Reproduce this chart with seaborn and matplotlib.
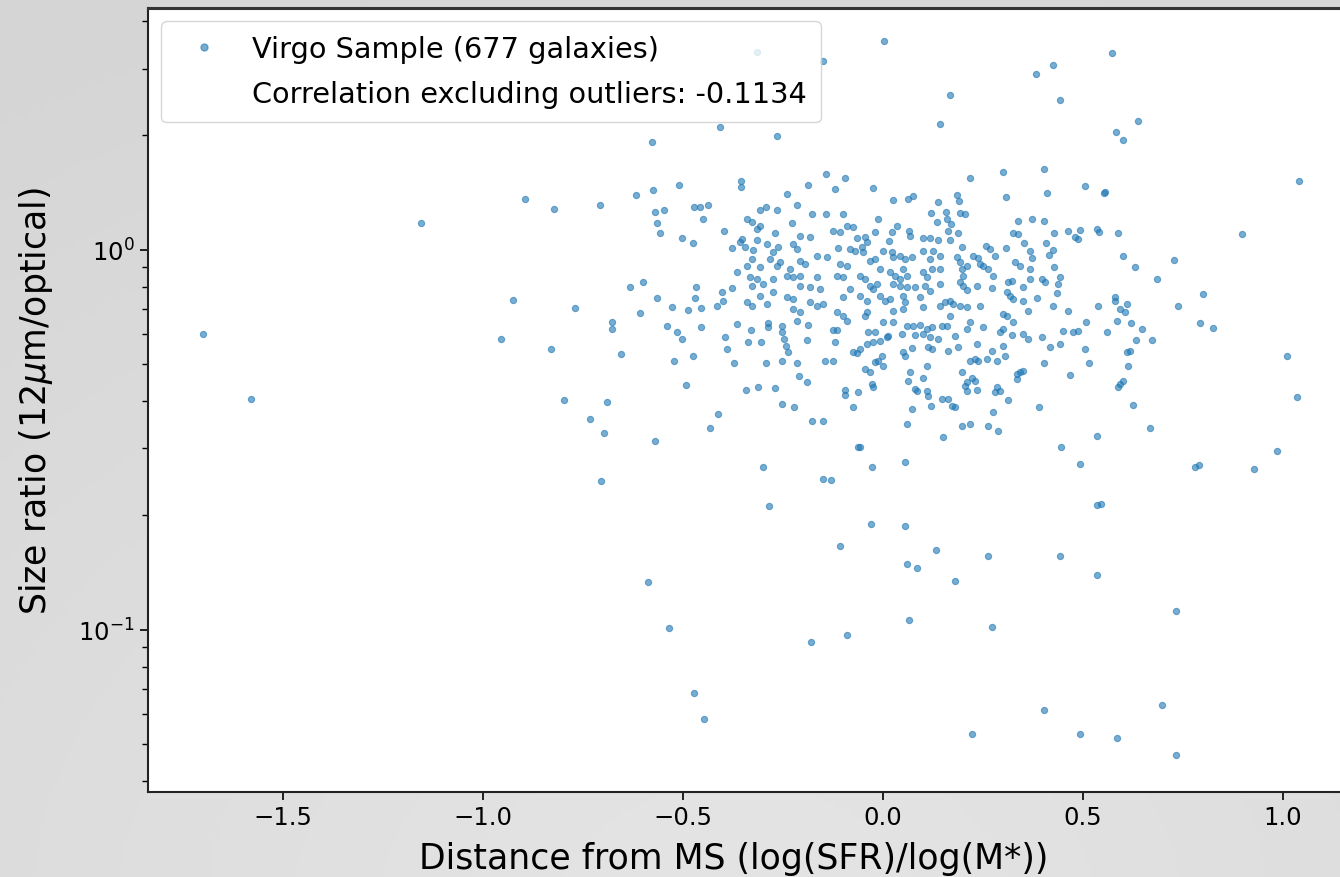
import numpy as np
import matplotlib
matplotlib.use("Agg")
import matplotlib.pyplot as plt
from matplotlib.lines import Line2D
import seaborn as sns

# ---------------- data ----------------
# x: distance from main sequence; *_logy: log10 of the size ratio (read on the log axis)
core_a_x = [-0.143, -0.095, -0.355, -0.355, -0.51, -0.188, -0.12, -0.575, -0.618, -0.24,
            -0.708, -0.473, -0.458, -0.438, -0.215, -0.57, -0.548, -0.308, -0.293, -0.265,
            -0.178, -0.143, -0.1, -0.45, -0.34, -0.328, -0.565, -0.228, -0.308, -0.315,
            -0.09, -0.075, -0.125, -0.108, -0.398, -0.558, -0.27, -0.208, -0.183, -0.353,
            -0.315, -0.065, -0.503, -0.475, -0.29, -0.263, -0.225, -0.215, -0.358, -0.345,
            -0.378, -0.113, -0.083, -0.07, -0.325, -0.275, -0.165, -0.14, -0.283, -0.258,
            -0.328, -0.208, -0.195, -0.108, -0.09, -0.34, -0.308, -0.265, -0.233, -0.365,
            -0.24, -0.225, -0.208, -0.165, -0.115, -0.1, -0.333, -0.315, -0.275, -0.6,
            -0.633, -0.468, -0.378, -0.328, -0.3, -0.208, -0.183, -0.158, -0.083, -0.565,
            -0.47, -0.403, -0.4, -0.308, -0.275, -0.24, -0.225, -0.34, -0.328, -0.183,
            -0.165, -0.15, -0.1, -0.77, -0.528, -0.488, -0.455, -0.415, -0.608, -0.29,
            -0.225, -0.208, -0.115, -0.1]
core_a_logy = [0.199, 0.189, 0.181, 0.165, 0.170, 0.170, 0.160, 0.157, 0.144, 0.147,
               0.118, 0.112, 0.112, 0.118, 0.118, 0.099, 0.104, 0.104, 0.112, 0.104,
               0.094, 0.094, 0.094, 0.081, 0.081, 0.073, 0.070, 0.070, 0.062, 0.054,
               0.062, 0.060, 0.049, 0.047, 0.049, 0.044, 0.044, 0.036, 0.033, 0.028,
               0.026, 0.031, 0.031, 0.018, 0.015, 0.007, 0.015, 0.002, 0.020, 0.007,
               0.004, 0.004, 0.002, -0.003, -0.001, -0.006, -0.017, -0.019, -0.024, -0.032,
               -0.024, -0.030, -0.038, -0.038, -0.043, -0.043, -0.046, -0.043, -0.051, -0.059,
               -0.069, -0.072, -0.069, -0.072, -0.069, -0.072, -0.072, -0.077, -0.077, -0.085,
               -0.098, -0.098, -0.101, -0.096, -0.090, -0.096, -0.098, -0.103, -0.103, -0.127,
               -0.127, -0.111, -0.135, -0.122, -0.111, -0.124, -0.130, -0.138, -0.148, -0.138,
               -0.148, -0.143, -0.124, -0.153, -0.151, -0.159, -0.153, -0.148, -0.167, -0.143,
               -0.156, -0.164, -0.164, -0.174]

core_b_x = [0.3, 0.403, 0.218, -0.025, 0.505, 0.555, 0.41, 0.308, 0.025, 0.063,
            0.075, 0.138, 0.185, 0.19, 0.12, 0.158, 0.16, 0.193, 0.205, -0.013,
            0.135, 0.17, 0.338, 0.373, 0.403, 0.035, 0.023, -0.02, 0.065, 0.068,
            0.163, 0.188, 0.325, 0.338, 0.428, 0.463, 0.493, 0.48, 0.488, 0.535,
            0.54, 0.588, -0.045, -0.04, 0.1, 0.118, 0.138, 0.168, 0.015, 0.353,
            0.408, -0.053, -0.05, 0.0, 0.023, 0.1, 0.125, 0.198, 0.258, 0.268,
            0.28, 0.308, 0.368, 0.373, 0.425, 0.415, 0.6, -0.033, -0.02, 0.025,
            0.043, 0.055, 0.073, 0.118, 0.143, 0.185, 0.193, 0.21, 0.225, 0.238,
            0.243, 0.33, 0.343, 0.368, 0.428, 0.63, 0.685, -0.058, -0.045, -0.008,
            0.018, 0.03, 0.043, 0.06, 0.05, 0.1, 0.11, 0.123, 0.143, 0.198,
            0.2, 0.25, 0.263, 0.275, 0.313, 0.323, 0.368, 0.398, 0.405, 0.443,
            0.438, -0.033, -0.025, -0.015, 0.025, 0.043, 0.06, 0.08, 0.105, 0.118,
            0.143, 0.193, 0.2, 0.21, 0.235, 0.273, 0.31, 0.318, 0.35, 0.435,
            -0.058, -0.04, -0.008, 0.005, 0.018, 0.05, 0.055, 0.093, 0.143, 0.155,
            0.168, 0.175, 0.193, 0.21, 0.243, 0.325, 0.35, 0.385, 0.425, 0.463,
            0.538, 0.58, 0.593, 0.61, 0.605, 0.025, 0.05, 0.1, 0.168, 0.3,
            0.31, 0.363, -0.04, -0.045]
core_b_logy = [0.204, 0.212, 0.189, 0.162, 0.168, 0.152, 0.149, 0.139, 0.131, 0.133,
               0.141, 0.126, 0.144, 0.128, 0.097, 0.099, 0.081, 0.097, 0.094, 0.081,
               0.073, 0.068, 0.076, 0.081, 0.076, 0.062, 0.047, 0.047, 0.049, 0.036,
               0.049, 0.044, 0.044, 0.041, 0.044, 0.049, 0.052, 0.033, 0.028, 0.054,
               0.047, 0.044, 0.033, 0.020, 0.031, 0.031, 0.026, 0.026, 0.023, 0.018,
               0.018, 0.007, -0.006, -0.003, -0.006, -0.003, -0.003, 0.007, 0.010, 0.002,
               -0.017, 0.004, -0.003, -0.022, -0.001, -0.014, -0.017, -0.030, -0.024, -0.019,
               -0.017, -0.024, -0.019, -0.024, -0.017, -0.019, -0.032, -0.043, -0.017, -0.022,
               -0.038, -0.032, -0.043, -0.051, -0.046, -0.046, -0.077, -0.069, -0.077, -0.051,
               -0.059, -0.069, -0.077, -0.069, -0.051, -0.059, -0.072, -0.051, -0.051, -0.051,
               -0.069, -0.043, -0.051, -0.069, -0.085, -0.082, -0.077, -0.077, -0.085, -0.072,
               -0.090, -0.096, -0.103, -0.090, -0.090, -0.096, -0.098, -0.098, -0.096, -0.109,
               -0.090, -0.085, -0.096, -0.106, -0.096, -0.101, -0.111, -0.122, -0.098, -0.114,
               -0.122, -0.135, -0.122, -0.135, -0.130, -0.122, -0.138, -0.124, -0.148, -0.138,
               -0.135, -0.143, -0.148, -0.151, -0.148, -0.130, -0.135, -0.127, -0.148, -0.161,
               -0.148, -0.135, -0.156, -0.143, -0.164, -0.161, -0.156, -0.151, -0.174, -0.169,
               -0.174, -0.161, -0.164, -0.174]

core_c_x = [-0.678, -0.678, -0.54, -0.515, -0.503, -0.455, -0.365, -0.395, -0.33, -0.288,
            -0.288, -0.253, -0.253, -0.248, -0.243, -0.238, -0.215, -0.188, -0.125, -0.115,
            -0.09, -0.338, -0.305, -0.19, -0.12, -0.655, -0.39, -0.075, -0.065, -0.523,
            -0.475, -0.373, -0.293, -0.253, -0.215, -0.145, -0.125, -0.21, -0.19, -0.493,
            -0.343, -0.313, -0.27, -0.095, -0.095, -0.063, -0.798, -0.69, -0.253, -0.223,
            -0.075, -0.413, -0.733, -0.178, -0.15, -0.433, -0.698, -0.57, -0.063, -0.3]
core_c_logy = [-0.190, -0.209, -0.201, -0.217, -0.235, -0.203, -0.196, -0.230, -0.211, -0.193,
               -0.203, -0.201, -0.217, -0.235, -0.253, -0.269, -0.188, -0.198, -0.211, -0.211,
               -0.188, -0.243, -0.243, -0.238, -0.243, -0.274, -0.261, -0.269, -0.272, -0.293,
               -0.280, -0.298, -0.298, -0.293, -0.298, -0.293, -0.293, -0.332, -0.348, -0.356,
               -0.369, -0.361, -0.364, -0.369, -0.382, -0.374, -0.396, -0.401, -0.406, -0.414,
               -0.414, -0.432, -0.446, -0.451, -0.451, -0.469, -0.482, -0.503, -0.519, -0.572]

core_d_x = [0.0, 0.025, 0.06, 0.075, 0.093, 0.11, 0.123, 0.148, 0.16, -0.038,
            -0.02, 0.013, 0.048, 0.08, 0.1, 0.118, 0.138, 0.18, 0.21, 0.218,
            0.25, 0.293, 0.3, 0.323, 0.325, 0.35, 0.363, 0.398, 0.45, 0.475,
            0.488, 0.508, 0.56, 0.585, 0.62, 0.648, 0.633, 0.673, -0.058, -0.04,
            -0.025, -0.008, 0.01, 0.05, 0.055, 0.073, 0.113, 0.123, 0.163, 0.188,
            0.235, 0.273, 0.3, 0.305, 0.418, 0.443, 0.505, 0.61, 0.618, -0.02,
            -0.013, -0.003, 0.0, -0.045, -0.033, 0.218, 0.23, 0.238, 0.26, 0.285,
            0.11, 0.403, 0.515, 0.613, 0.068, 0.063, 0.1, 0.198, 0.223, 0.23,
            0.21, 0.335, 0.343, 0.35, 0.335, 0.468, 0.593, 0.6, 0.588, -0.028,
            -0.025, 0.08, 0.085, 0.11, 0.113, 0.205, 0.21, 0.235, 0.285, 0.293,
            0.28, 0.148, 0.163, 0.173, 0.18, 0.313, 0.073, 0.12, 0.39, 0.275,
            0.625, 0.06, 0.198, 0.218, 0.263, 0.288, 0.668, 0.15, 0.535, -0.058,
            0.445, 0.055, -0.028, 0.493]
core_d_logy = [-0.190, -0.190, -0.201, -0.201, -0.198, -0.209, -0.203, -0.201, -0.201, -0.217,
               -0.217, -0.227, -0.222, -0.224, -0.222, -0.230, -0.235, -0.227, -0.209, -0.190,
               -0.203, -0.217, -0.209, -0.224, -0.190, -0.222, -0.235, -0.230, -0.214, -0.217,
               -0.214, -0.190, -0.217, -0.188, -0.193, -0.209, -0.238, -0.238, -0.261, -0.248,
               -0.243, -0.240, -0.230, -0.269, -0.280, -0.259, -0.256, -0.261, -0.267, -0.256,
               -0.248, -0.267, -0.253, -0.280, -0.256, -0.248, -0.261, -0.269, -0.267, -0.296,
               -0.293, -0.280, -0.306, -0.314, -0.322, -0.293, -0.288, -0.293, -0.288, -0.293,
               -0.306, -0.298, -0.298, -0.306, -0.322, -0.346, -0.338, -0.322, -0.338, -0.346,
               -0.348, -0.327, -0.322, -0.319, -0.340, -0.330, -0.353, -0.346, -0.361, -0.353,
               -0.361, -0.367, -0.372, -0.372, -0.385, -0.359, -0.372, -0.369, -0.361, -0.372,
               -0.374, -0.393, -0.393, -0.411, -0.414, -0.396, -0.419, -0.411, -0.414, -0.427,
               -0.409, -0.459, -0.464, -0.459, -0.464, -0.477, -0.469, -0.493, -0.490, -0.519,
               -0.519, -0.559, -0.572, -0.564]

sparse_x = [0.573, 0.638, 0.583, 0.6, 1.04, 0.553, 0.898, 0.728, 0.8, 0.58,
            0.223, 0.403, 0.493, 0.585, 0.698, 0.733,
            -1.7, -1.58, -1.155, -0.955, -0.895, -0.823, -0.925, -0.83,
            0.003, -0.15, -0.315, 0.425, 0.383, 0.168, 0.443, 0.143, -0.408, -0.578, -0.265,
            -0.705, -0.588, -0.535, -0.473, -0.448, -0.18, -0.09, 0.065, 0.273, 0.733,
            -0.108, 0.06, 0.085, 0.133, 0.18, 0.263, 0.443, 0.535, -0.285, -0.03, 0.055,
            0.545, 0.535,
            -0.15, -0.13, 1.01, 1.035, 0.985, 0.928, 0.79, 0.78, 0.793, 0.825, 0.738]
sparse_logy = [0.518, 0.339, 0.310, 0.289, 0.181, 0.149, 0.041, -0.027, -0.117, -0.124,
               -1.274, -1.211, -1.274, -1.285, -1.198, -1.330,
               -0.222, -0.393, 0.070, -0.235, 0.133, 0.107, -0.132, -0.261,
               0.549, 0.497, 0.520, 0.486, 0.462, 0.407, 0.394, 0.331, 0.323, 0.283, 0.299,
               -0.609, -0.874, -0.996, -1.167, -1.235, -1.032, -1.014, -0.974, -0.993, -0.951,
               -0.780, -0.827, -0.838, -0.790, -0.872, -0.806, -0.806, -0.856, -0.674, -0.722, -0.727,
               -0.669, -0.672,
               -0.603, -0.606, -0.280, -0.388, -0.530, -0.577, -0.567, -0.572, -0.193, -0.206, -0.148]

sample_label = "Virgo Sample (677 galaxies)"
corr_label = "Correlation excluding outliers: -0.1134"
x_label = "Distance from MS (log(SFR)/log(M*))"
y_label = r"Size ratio (12$\mu$m/optical)"

distance = np.array(core_a_x + core_b_x + core_c_x + core_d_x + sparse_x)
size_ratio = 10 ** np.array(core_a_logy + core_b_logy + core_c_logy + core_d_logy + sparse_logy)

# ---------------- figure ----------------
W, H, DPI = 13.4, 8.78, 100
fig = plt.figure(figsize=(W, H), dpi=DPI)

# grey presentation-style background
bg = fig.add_axes([0, 0, 1, 1], zorder=-10)
yy, xx = np.mgrid[0:1:200j, 0:1:300j]
dist = np.sqrt(((xx - 0.55) * 1.0) ** 2 + ((yy - 1.05) * 0.9) ** 2)
grad = 0.895 - 0.06 * np.clip(dist / 1.0, 0, 1)
bg.imshow(grad, cmap="gray", vmin=0, vmax=1, aspect="auto", extent=[0, 1, 0, 1])
bg.set_axis_off()

left, bottom = 148 / 1340, (878 - 793) / 878
width, height = (1354 - 148) / 1340, (793 - 9) / 878
ax = fig.add_axes([left, bottom, width, height])
ax.set_facecolor("white")

blue = "#1f77b4"
sns.scatterplot(x=distance, y=size_ratio, ax=ax, s=20, color=blue, alpha=0.6,
                edgecolor=blue, linewidth=0.8, legend=False)

ax.set_yscale("log")
ax.set_xlim(-1.8375, 1.1775)
ax.set_ylim(0.0374, 4.33)

ax.set_xlabel(x_label, fontsize=25)
ax.xaxis.set_label_coords(0.486, -0.062)
ax.set_ylabel(y_label, fontsize=25, labelpad=17)
ax.tick_params(axis="both", which="major", labelsize=17.5, length=6, width=1.2)
ax.tick_params(axis="y", which="minor", length=4, width=1.0)
ax.set_xticks([-1.5, -1.0, -0.5, 0.0, 0.5, 1.0])

for side in ["left", "bottom"]:
    ax.spines[side].set_linewidth(1.5)
    ax.spines[side].set_color("#222222")
ax.spines["top"].set_linewidth(2.2)
ax.spines["top"].set_color("#333333")

sample_handle = Line2D([], [], linestyle="none", marker="o", markersize=5,
                       markerfacecolor=blue, markeredgecolor=blue, alpha=0.6)
empty_handle = Line2D([], [], linestyle="none")
ax.legend([sample_handle, empty_handle], [sample_label, corr_label],
          loc="upper left", fontsize=20.7, frameon=True, framealpha=0.8,
          labelspacing=0.58, borderpad=0.5, handletextpad=0.65,
          bbox_to_anchor=(0.0, 1.0), borderaxespad=0.45)

fig.savefig("out.png", dpi=DPI)
